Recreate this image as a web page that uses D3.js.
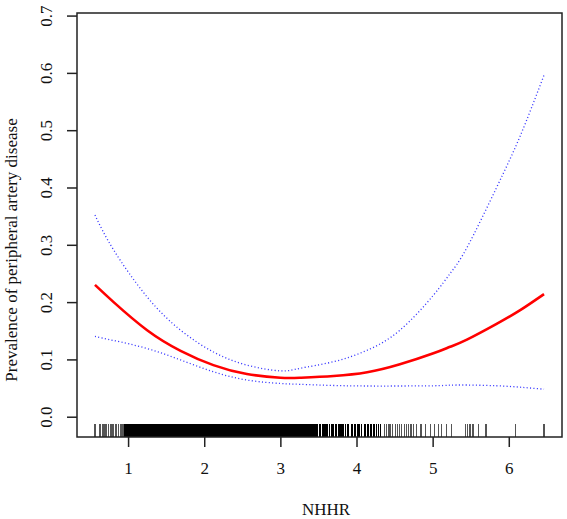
<!DOCTYPE html>
<html>
<head>
<meta charset="utf-8">
<script src="https://cdn.jsdelivr.net/npm/d3@7"></script>
<style>
  body { margin: 0; background: #fff; }
  svg { display: block; font-family: 'Liberation Serif', 'DejaVu Serif', serif; }
  svg text { font-family: 'Liberation Serif', 'DejaVu Serif', serif; font-size: 17px; }
</style>
</head>
<body>
<svg id="chart" width="567" height="519"></svg>
<script>
// smooth fit and 95% CI
const nhhr = [0.565, 0.81, 1.25, 1.69, 2.12, 2.56, 3.0, 3.26, 3.70, 4.14, 4.57, 5.01, 5.23, 5.45, 5.84, 6.15, 6.463];
const fit = [0.230, 0.200, 0.151, 0.115, 0.090, 0.0745, 0.068, 0.068, 0.071, 0.0775, 0.0914, 0.1106, 0.122, 0.1345, 0.162, 0.186, 0.214];
const upper = [0.352, 0.291, 0.209, 0.151, 0.113, 0.090, 0.080, 0.0845, 0.096, 0.116, 0.151, 0.212, 0.250, 0.295, 0.400, 0.490, 0.596];
const lower = [0.140, 0.133, 0.119, 0.099, 0.0785, 0.064, 0.058, 0.0565, 0.0545, 0.0536, 0.0536, 0.054, 0.055, 0.0553, 0.054, 0.0515, 0.048];

// observations for the rug
const rugLeft = [0.565, 0.62, 0.64, 0.66, 0.685, 0.70, 0.72, 0.745, 0.77, 0.79, 0.81, 0.83, 0.85, 0.875, 0.90, 0.92, 0.94];
const rugDense = [
  0.95, 0.96, 0.97, 0.98, 0.99, 1.00, 1.01, 1.02, 1.03, 1.04, 1.05, 1.06, 1.07, 1.08, 1.09,
  1.10, 1.11, 1.12, 1.13, 1.14, 1.15, 1.16, 1.17, 1.18, 1.19, 1.20, 1.21, 1.22, 1.23, 1.24,
  1.25, 1.26, 1.27, 1.28, 1.29, 1.30, 1.31, 1.32, 1.33, 1.34, 1.35, 1.36, 1.37, 1.38, 1.39,
  1.40, 1.41, 1.42, 1.43, 1.44, 1.45, 1.46, 1.47, 1.48, 1.49, 1.50, 1.51, 1.52, 1.53, 1.54,
  1.55, 1.56, 1.57, 1.58, 1.59, 1.60, 1.61, 1.62, 1.63, 1.64, 1.65, 1.66, 1.67, 1.68, 1.69,
  1.70, 1.71, 1.72, 1.73, 1.74, 1.75, 1.76, 1.77, 1.78, 1.79, 1.80, 1.81, 1.82, 1.83, 1.84,
  1.85, 1.86, 1.87, 1.88, 1.89, 1.90, 1.91, 1.92, 1.93, 1.94, 1.95, 1.96, 1.97, 1.98, 1.99,
  2.00, 2.01, 2.02, 2.03, 2.04, 2.05, 2.06, 2.07, 2.08, 2.09, 2.10, 2.11, 2.12, 2.13, 2.14,
  2.15, 2.16, 2.17, 2.18, 2.19, 2.20, 2.21, 2.22, 2.23, 2.24, 2.25, 2.26, 2.27, 2.28, 2.29,
  2.30, 2.31, 2.32, 2.33, 2.34, 2.35, 2.36, 2.37, 2.38, 2.39, 2.40, 2.41, 2.42, 2.43, 2.44,
  2.45, 2.46, 2.47, 2.48, 2.49, 2.50, 2.51, 2.52, 2.53, 2.54, 2.55, 2.56, 2.57, 2.58, 2.59,
  2.60, 2.61, 2.62, 2.63, 2.64, 2.65, 2.66, 2.67, 2.68, 2.69, 2.70, 2.71, 2.72, 2.73, 2.74,
  2.75, 2.76, 2.77, 2.78, 2.79, 2.80, 2.81, 2.82, 2.83, 2.84, 2.85, 2.86, 2.87, 2.88, 2.89,
  2.90, 2.91, 2.92, 2.93, 2.94, 2.95, 2.96, 2.97, 2.98, 2.99, 3.00, 3.01, 3.02, 3.03, 3.04,
  3.05, 3.06, 3.07, 3.08, 3.09, 3.10, 3.11, 3.12, 3.13, 3.14, 3.15, 3.16, 3.17, 3.18, 3.19,
  3.20, 3.21, 3.22, 3.23, 3.24, 3.25, 3.26, 3.27, 3.28, 3.29, 3.30, 3.31, 3.32, 3.33, 3.34,
  3.35, 3.36, 3.37, 3.38, 3.39, 3.40, 3.41, 3.42, 3.43, 3.44, 3.45, 3.46, 3.47, 3.48, 3.49
];
const rugMid = [3.51, 3.53, 3.55, 3.56, 3.58, 3.60, 3.62, 3.65, 3.67, 3.69, 3.70, 3.72, 3.74,
  3.77, 3.79, 3.81, 3.83, 3.86, 3.88, 3.90, 3.93, 3.95, 3.97, 3.99, 4.02, 4.04, 4.07, 4.10,
  4.12, 4.15, 4.18, 4.20, 4.23, 4.26, 4.29, 4.31];
const rugRight = [4.367, 4.39, 4.42, 4.44, 4.47, 4.508, 4.543, 4.564, 4.596, 4.63, 4.661, 4.682,
  4.705, 4.727, 4.748, 4.79, 4.836, 4.858, 4.902, 4.967, 5.024, 5.076, 5.12, 5.186, 5.252,
  5.436, 5.46, 5.49, 5.53, 5.60, 5.70, 6.083, 6.463];
const rug = [...rugLeft, ...rugDense, ...rugMid, ...rugRight];

const xTicks = [1, 2, 3, 4, 5, 6];
const yTicks = [0, 0.1, 0.2, 0.3, 0.4, 0.5, 0.6, 0.7];

const svg = d3.select('#chart');
const box = { left: 77, right: 562, top: 13, bottom: 437 };

// R style 4% padding around the data
const ext = d3.extent(rug);
const pad = (ext[1] - ext[0]) * 0.04;
const x = d3.scaleLinear().domain([ext[0] - pad, ext[1] + pad]).range([box.left, box.right]);
const y = d3.scaleLinear().domain([-0.0354, 0.7045]).range([box.bottom, box.top]);

// rug
svg.append('g')
  .attr('shape-rendering', 'crispEdges')
  .selectAll('line')
  .data(rug)
  .join('line')
  .attr('x1', (d) => x(d)).attr('x2', (d) => x(d))
  .attr('y1', box.bottom).attr('y2', box.bottom - 13.5)
  .attr('stroke', (d) => (d < 0.95 || d > 4.35 ? '#555' : '#000'))
  .attr('stroke-width', 1.2);

const pts = (ys) => nhhr.map((v, i) => [x(v), y(ys[i])]);
const line = d3.line().curve(d3.curveNatural);

[upper, lower].forEach((s) => {
  svg.append('path')
    .attr('d', line(pts(s)))
    .attr('fill', 'none')
    .attr('stroke', '#3a3aff')
    .attr('stroke-width', 1.3)
    .attr('stroke-dasharray', '1.1,2.3');
});

svg.append('path')
  .attr('d', line(pts(fit)))
  .attr('fill', 'none')
  .attr('stroke', '#ff0000')
  .attr('stroke-width', 2.6);

// box
svg.append('rect')
  .attr('x', box.left).attr('y', box.top)
  .attr('width', box.right - box.left).attr('height', box.bottom - box.top)
  .attr('fill', 'none').attr('stroke', '#222').attr('stroke-width', 1.5);

// x axis
svg.append('g')
  .attr('transform', `translate(0,${box.bottom})`)
  .call(d3.axisBottom(x).tickValues(xTicks).tickSize(10).tickFormat(d3.format('d')))
  .call((g) => g.select('.domain').remove())
  .call((g) => g.selectAll('.tick line').attr('stroke', '#222').attr('stroke-width', 1.5))
  .call((g) => g.selectAll('.tick text')
    .attr('y', 37).attr('dy', 0)
    .attr('fill', '#111'));

// y axis
svg.append('g')
  .attr('transform', `translate(${box.left},0)`)
  .call(d3.axisLeft(y).tickValues(yTicks).tickSize(10).tickFormat(d3.format('.1f')))
  .call((g) => g.select('.domain').remove())
  .call((g) => g.selectAll('.tick line').attr('stroke', '#222').attr('stroke-width', 1.5))
  .call((g) => g.selectAll('.tick text')
    .attr('x', 0).attr('dy', 0)
    .attr('transform', 'translate(-25,0) rotate(-90)')
    .attr('text-anchor', 'middle')
    .attr('fill', '#111'));

svg.append('text')
  .attr('x', 326).attr('y', 515)
  .attr('text-anchor', 'middle')
  .attr('fill', '#111')
  .text('NHHR');

svg.append('text')
  .attr('transform', 'translate(17,250) rotate(-90)')
  .attr('text-anchor', 'middle')
  .attr('fill', '#111')
  .text('Prevalence of peripheral artery disease');
</script>
</body>
</html>
